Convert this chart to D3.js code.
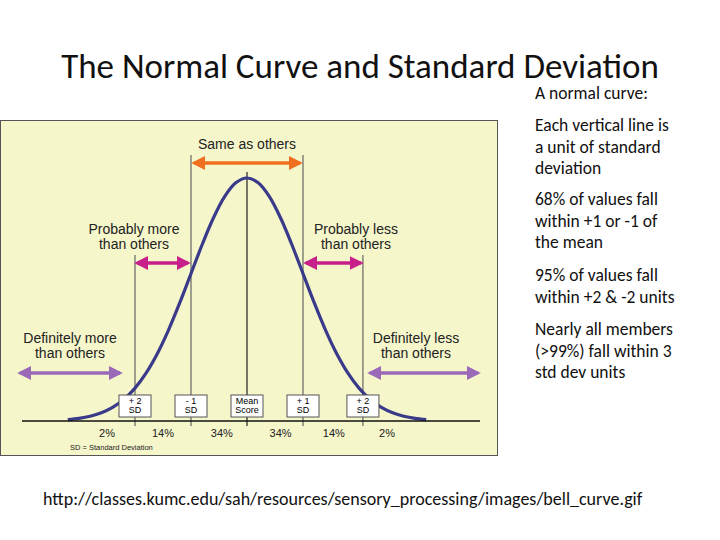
<!DOCTYPE html>
<style>
body { margin:0; background:#fff; }
text { font-family: "Liberation Sans", Arial, sans-serif; }
.slide { font-family: Carlito, "Open Sans", "Noto Sans", sans-serif; }
</style>
<svg width="720" height="540"></svg>
<script src="https://d3js.org/d3.v7.min.js"></script>
<script>
// SD units vs. normal density
var curveSd = [-3.2,-3.0,-2.8,-2.6,-2.4,-2.2,-2.0,-1.8,-1.6,-1.4,-1.2,-1.0,-0.8,-0.6,-0.4,-0.2,0,
               0.2,0.4,0.6,0.8,1.0,1.2,1.4,1.6,1.8,2.0,2.2,2.4,2.6,2.8,3.0,3.2];
var curveVal = [0.0024,0.0044,0.0079,0.0136,0.0224,0.0355,0.0540,0.0790,0.1109,0.1497,0.1942,0.2420,0.2897,0.3332,0.3683,0.3910,0.3989,
                0.3910,0.3683,0.3332,0.2897,0.2420,0.1942,0.1497,0.1109,0.0790,0.0540,0.0355,0.0224,0.0136,0.0079,0.0044,0.0024];
var markSd = [-2, -1, 0, 1, 2.07];
var markLabels = [["+ 2","SD"],["- 1","SD"],["Mean","Score"],["+ 1","SD"],["+ 2","SD"]];
var pctSd = [-2.5, -1.5, -0.45, 0.6, 1.55, 2.5];
var pctLabels = ["2%","14%","34%","34%","14%","2%"];
var bullets = [["A normal curve:"],
  ["Each vertical line is","a unit of standard","deviation"],
  ["68% of values fall","within +1 or -1 of","the mean"],
  ["95% of values fall","within +2 & -2 units"],
  ["Nearly all members","(>99%) fall within 3","std dev units"]];

var svg = d3.select("svg");
var x = d3.scaleLinear().domain([-4, 4]).range([23, 471]);
var y = d3.scaleLinear().domain([0, 0.3989]).range([421, 178]);

svg.append("text").attr("class","slide").attr("x", 360).attr("y", 78).attr("text-anchor","middle")
  .attr("font-size", 35).attr("fill","#111").text("The Normal Curve and Standard Deviation");

svg.append("rect").attr("x",0.5).attr("y",120.5).attr("width",497).attr("height",335)
  .attr("fill","#f6f6cb").attr("stroke","#555");

var defs = svg.append("defs");
function marker(id, c) {
  defs.append("marker").attr("id", id).attr("viewBox","0 0 10 10").attr("refX",8).attr("refY",5)
    .attr("markerWidth",4).attr("markerHeight",4).attr("orient","auto-start-reverse")
    .append("path").attr("d","M0,0L10,5L0,10z").attr("fill", c);
}
marker("mo","#f07020"); marker("mm","#c8208a"); marker("mp","#9a6ab8");
function arrow(x1, x2, yy, id, c) {
  svg.append("line").attr("x1",x1).attr("x2",x2).attr("y1",yy).attr("y2",yy)
    .attr("stroke",c).attr("stroke-width",3.5)
    .attr("marker-start","url(#"+id+")").attr("marker-end","url(#"+id+")");
}

// vertical lines
var tops = [255, 155, 172, 155, 255];
markSd.forEach(function(d, i) {
  svg.append("line").attr("x1",x(d)).attr("x2",x(d)).attr("y1",tops[i]).attr("y2",426)
    .attr("stroke", i == 2 ? "#222" : "#666").attr("stroke-width",1.2);
});

svg.append("path").datum(curveSd.map(function(d, i){ return [d, curveVal[i]]; }))
  .attr("d", d3.line().x(function(d){return x(d[0]);}).y(function(d){return y(d[1]);}).curve(d3.curveCatmullRom))
  .attr("fill","none").attr("stroke","#3a3a8a").attr("stroke-width",3.2);

svg.append("line").attr("x1",22).attr("x2",480).attr("y1",421).attr("y2",421).attr("stroke","#111").attr("stroke-width",1.5);

markSd.forEach(function(d, i) {
  var g = svg.append("g").attr("transform","translate("+x(d)+",0)");
  g.append("rect").attr("x",-16).attr("y",395).attr("width",32).attr("height",22).attr("fill","#fff").attr("stroke","#555");
  g.append("text").attr("text-anchor","middle").attr("y",404).attr("font-size",9).text(markLabels[i][0]);
  g.append("text").attr("text-anchor","middle").attr("y",413).attr("font-size",9).text(markLabels[i][1]);
});

pctSd.forEach(function(d, i) {
  svg.append("text").attr("x",x(d)).attr("y",437).attr("text-anchor","middle").attr("font-size",11).attr("fill","#222").text(pctLabels[i]);
});
svg.append("text").attr("x",70).attr("y",450).attr("font-size",7.5).attr("fill","#222").text("SD = Standard Deviation");

arrow(x(-1)+3, x(1)-3, 163, "mo", "#f07020");
arrow(x(-2)+2, x(-1)-3, 263, "mm", "#c8208a");
arrow(x(1)+3, x(2.07)-2, 263, "mm", "#c8208a");
arrow(20, 120, 373, "mp", "#9a6ab8");
arrow(370, 478, 373, "mp", "#9a6ab8");

function label(lines, cx, y0) {
  lines.forEach(function(t, i) {
    svg.append("text").attr("x",cx).attr("y",y0 + i*15).attr("text-anchor","middle").attr("font-size",14).attr("fill","#222").text(t);
  });
}
label(["Same as others"], x(0), 149);
label(["Probably more","than others"], 134, 234);
label(["Probably less","than others"], 356, 234);
label(["Definitely more","than others"], 70, 343);
label(["Definitely less","than others"], 416, 343);

var yy = [99, 131, 205, 281, 335];
bullets.forEach(function(b, j) {
  b.forEach(function(t, i) {
    svg.append("text").attr("class","slide").attr("x",535).attr("y",yy[j] + i*21.7).attr("font-size",17.5).attr("fill","#111").text(t);
  });
});

svg.append("text").attr("class","slide").attr("x",43).attr("y",505).attr("font-size",18).attr("fill","#111")
  .text("http://classes.kumc.edu/sah/resources/sensory_processing/images/bell_curve.gif");
</script>
